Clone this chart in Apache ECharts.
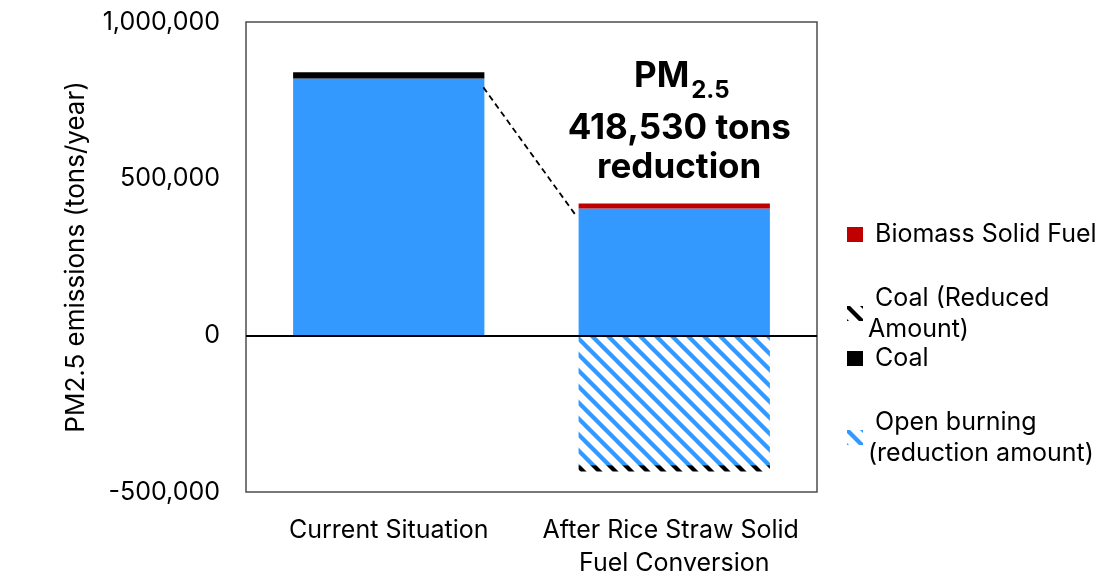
<!DOCTYPE html>
<html>
<head>
<meta charset="utf-8">
<script src="https://cdn.jsdelivr.net/npm/echarts@6/dist/echarts.min.js"></script>
<style>
  html, body { margin: 0; padding: 0; background: #ffffff; }
  #chart { width: 1114px; height: 576px; }
</style>
</head>
<body>
<div id="chart"></div>
<script>
// Categories and PM2.5 emission values (tons/year)
const categories = ['Current Situation', 'After Rice Straw Solid Fuel Conversion'];
const openBurning = [820000, 405000];
const coal = [19530, null];
const biomassSolidFuel = [null, 16000];
const openBurningReduction = [null, -415000];
const coalReduced = [null, -19530];
const yTickLabels = ['-500,000', '0', '500,000', '1,000,000'];
const yMin = -500000, yMax = 1000000, yStep = 500000;

const FONT = 'Inter';
const BLUE = '#3399FF';
const RED = '#C00000';
const BLACK = '#000000';

// Diagonal hatch fill ("\" direction) used for the reduction amounts
function hatch(color) {
  const c = document.createElement('canvas');
  c.width = 16; c.height = 16;
  const g = c.getContext('2d');
  g.fillStyle = '#ffffff';
  g.fillRect(0, 0, 16, 16);
  g.strokeStyle = color;
  g.lineWidth = 4.3;
  for (let k = -1; k <= 1; k++) {
    g.beginPath();
    g.moveTo(k * 16 - 2, -2);
    g.lineTo(k * 16 + 18, 18);
    g.stroke();
  }
  return { image: c, repeat: 'repeat' };
}

const stackTotal = i => (openBurning[i] || 0) + (coal[i] || 0) + (biomassSolidFuel[i] || 0);
const reduction = stackTotal(0) - stackTotal(1);

const legendText = {
  'Biomass Solid Fuel': ' Biomass Solid Fuel',
  'Coal (Reduced Amount)': ' Coal (Reduced\nAmount)',
  'Coal': ' Coal',
  'Open burning (reduction amount)': ' Open burning\n(reduction amount)'
};

function legendFor(name, top, twoLine) {
  return {
    data: [name],
    left: 847,
    top: top,
    padding: 0,
    orient: 'vertical',
    icon: 'rect',
    itemWidth: 16,
    itemHeight: 15,
    itemGap: 0,
    selectedMode: false,
    formatter: n => legendText[n],
    textStyle: {
      fontFamily: FONT,
      fontSize: 25,
      color: '#000000',
      lineHeight: 31,
      padding: twoLine ? [31, 0, 0, 0] : 0
    }
  };
}

const chart = echarts.init(document.getElementById('chart'), null, { renderer: 'canvas' });

const option = {
  animation: false,
  backgroundColor: '#ffffff',
  grid: {
    left: 246, right: 297, top: 22, bottom: 84,
    show: true,
    borderColor: '#4d4d4d',
    borderWidth: 1.5,
    containLabel: false,
    outerBoundsMode: 'none'
  },
  legend: [
    legendFor('Biomass Solid Fuel', 219, false),
    legendFor('Coal (Reduced Amount)', 267, true),
    legendFor('Coal', 343, false),
    legendFor('Open burning (reduction amount)', 391, true)
  ],
  xAxis: {
    type: 'category',
    data: categories,
    axisLine: { show: false, onZero: false },
    axisTick: { show: false },
    axisLabel: {
      margin: 22,
      fontFamily: FONT,
      fontSize: 25,
      color: '#000000',
      lineHeight: 33,
      width: 280,
      overflow: 'break',
      interval: 0
    }
  },
  yAxis: {
    type: 'value',
    min: yMin,
    max: yMax,
    interval: yStep,
    name: 'PM2.5 emissions (tons/year)',
    nameLocation: 'middle',
    nameGap: 157,
    nameRotate: 90,
    nameTextStyle: { fontFamily: FONT, fontSize: 26, color: '#000000' },
    axisLine: { show: false },
    axisTick: { show: false },
    splitLine: { show: false },
    axisLabel: {
      margin: 26,
      fontFamily: FONT,
      fontSize: 25,
      color: '#000000',
      formatter: v => yTickLabels[Math.round((v - yMin) / yStep)]
    }
  },
  series: [
    {
      name: 'Open burning',
      type: 'bar',
      stack: 'pm25',
      barCategoryGap: '33%',
      data: openBurning,
      itemStyle: { color: BLUE },
      markLine: {
        silent: true,
        symbol: 'none',
        label: { show: false },
        lineStyle: { color: BLACK, width: 2, type: 'solid' },
        data: [{ yAxis: 0 }]
      }
    },
    {
      name: 'Coal',
      type: 'bar',
      stack: 'pm25',
      data: coal,
      itemStyle: { color: BLACK }
    },
    {
      name: 'Biomass Solid Fuel',
      type: 'bar',
      stack: 'pm25',
      data: biomassSolidFuel,
      itemStyle: { color: RED }
    },
    {
      name: 'Open burning (reduction amount)',
      type: 'bar',
      stack: 'pm25',
      data: openBurningReduction,
      itemStyle: { color: hatch(BLUE) }
    },
    {
      name: 'Coal (Reduced Amount)',
      type: 'bar',
      stack: 'pm25',
      data: coalReduced,
      itemStyle: { color: hatch(BLACK) }
    }
  ]
};

chart.setOption(option);

// Dashed connector between the two stacks and the reduction callout
const p0 = chart.convertToPixel({ gridIndex: 0 }, [0, openBurning[0]]);
const p1 = chart.convertToPixel({ gridIndex: 0 }, [1, openBurning[1]]);
const band = p1[0] - p0[0];
const half = band * (1 - 0.33) / 2;
const calloutX = p1[0] + 5;
const fmt = n => n.toLocaleString('en-US');

chart.setOption({
  graphic: [
    {
      type: 'line',
      silent: true,
      z: 100,
      shape: { x1: p0[0] + half - 1, y1: p0[1] + 9, x2: p1[0] - half - 2, y2: p1[1] + 8 },
      style: { stroke: BLACK, lineWidth: 1.8, lineDash: [6, 4] }
    },
    {
      type: 'text',
      silent: true,
      z: 100,
      style: {
        x: calloutX + 10, y: 76, text: 'PM',
        font: 'bold 35px ' + FONT, fill: BLACK,
        align: 'right', verticalAlign: 'middle'
      }
    },
    {
      type: 'text',
      silent: true,
      z: 100,
      style: {
        x: calloutX + 12, y: 91, text: '2.5',
        font: 'bold 24px ' + FONT, fill: BLACK,
        align: 'left', verticalAlign: 'middle'
      }
    },
    {
      type: 'text',
      silent: true,
      z: 100,
      style: {
        x: calloutX, y: 128, text: fmt(reduction) + ' tons',
        font: 'bold 35px ' + FONT, fill: BLACK,
        align: 'center', verticalAlign: 'middle'
      }
    },
    {
      type: 'text',
      silent: true,
      z: 100,
      style: {
        x: calloutX, y: 167, text: 'reduction',
        font: 'bold 35px ' + FONT, fill: BLACK,
        align: 'center', verticalAlign: 'middle'
      }
    }
  ]
});
</script>
</body>
</html>
